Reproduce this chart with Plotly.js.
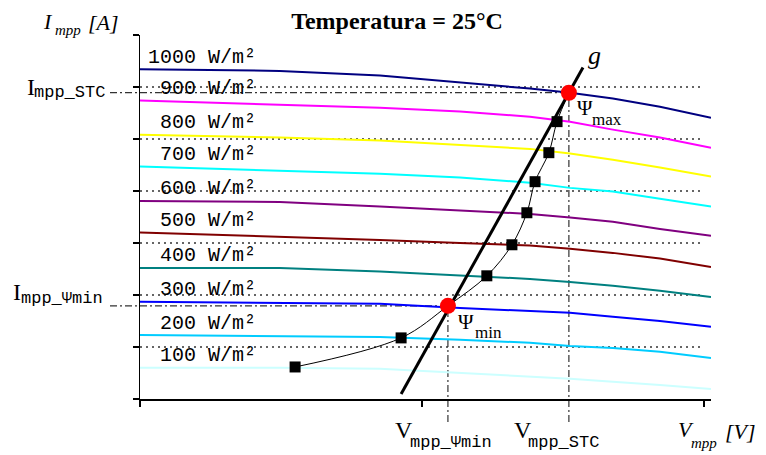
<!DOCTYPE html>
<html><head><meta charset="utf-8">
<script src="https://cdn.plot.ly/plotly-3.0.1.min.js"></script>
<style>html,body{margin:0;padding:0;background:#fff}</style>
</head><body><div id="chart" style="width:766px;height:455px"></div>
<script>
// ---- data ----
const irradianceLabels = ['1000 W/m²','900 W/m²','800 W/m²','700 W/m²','600 W/m²','500 W/m²','400 W/m²','300 W/m²','200 W/m²','100 W/m²'];
const curveColors = ['#000080','#FF00FF','#FFFF00','#00FFFF','#800080','#800000','#008080','#0000FF','#00CCFF','#CCFFFF'];
const curveX = [0, 0.496, 0.851, 1.135, 1.383, 1.525, 1.677, 1.844, 2.025];
const I1000 = [6.34, 6.31, 6.22, 6.09, 5.97, 5.89, 5.78, 5.62, 5.41];
const I900  = [5.74, 5.66, 5.60, 5.53, 5.43, 5.33, 5.18, 5.03, 4.83];
const I800  = [5.08, 5.03, 4.97, 4.89, 4.81, 4.72, 4.60, 4.45, 4.28];
const I700  = [4.47, 4.39, 4.33, 4.26, 4.16, 4.06, 3.99, 3.85, 3.70];
const I600  = [3.81, 3.79, 3.70, 3.62, 3.56, 3.49, 3.41, 3.27, 3.14];
const I500  = [3.20, 3.12, 3.06, 3.00, 2.95, 2.89, 2.81, 2.70, 2.54];
const I400  = [2.52, 2.52, 2.45, 2.37, 2.31, 2.25, 2.18, 2.08, 1.96];
const I300  = [1.87, 1.85, 1.83, 1.75, 1.70, 1.66, 1.58, 1.50, 1.39];
const I200  = [1.23, 1.21, 1.19, 1.14, 1.08, 1.02, 0.98, 0.91, 0.79];
const I100  = [0.60, 0.60, 0.58, 0.50, 0.44, 0.39, 0.33, 0.27, 0.19];
const curves = [I1000, I900, I800, I700, I600, I500, I400, I300, I200, I100];

// maximum power points, 100 -> 1000 W/m²
const mppV = [0.550, 0.926, 1.092, 1.230, 1.319, 1.372, 1.401, 1.450, 1.479, 1.521];
const mppI = [0.616, 1.175, 1.791, 2.369, 2.966, 3.582, 4.179, 4.737, 5.334, 5.890];
const psiMinIdx = 2, psiMaxIdx = 9;

// line g
const gV = [0.926, 1.571];
const gI = [0.096, 6.374];

const xTicks = [0, 1, 2];
const yTicks = [0, 1, 2, 3, 4, 5, 6, 7];
const gridVals = [1, 2, 3, 4, 5, 6];
const xMax = 2.025, yMax = 7;

// ---- layout geometry ----
const W = 766, H = 455, L = 140, R = 55, T = 35, B = 56;
const plotW = W - L - R, plotH = H - T - B;
const px = p => (p - L) / plotW;            // pixel x -> paper
const py = p => (H - B - p) / plotH;        // pixel y -> paper

const traces = [];
// dotted grid lines
gridVals.forEach(v => traces.push({
  x: [xTicks[0], xTicks[xTicks.length - 1]], y: [v, v], mode: 'lines',
  line: {color: '#333', width: 1.3, dash: '2px,4px'}, hoverinfo: 'skip', showlegend: false
}));
// irradiance curves
curves.forEach((c, i) => traces.push({
  x: curveX, y: c, mode: 'lines', line: {color: curveColors[i], width: 2},
  name: irradianceLabels[i], showlegend: false
}));
// MPP thin connecting curve
traces.push({x: mppV, y: mppI, mode: 'lines', line: {color: '#000', width: 1, shape: 'spline'}, showlegend: false});
// line g
traces.push({x: gV, y: gI, mode: 'lines', line: {color: '#000', width: 3}, showlegend: false});
// squares
const sqV = mppV.filter((_, i) => i !== psiMinIdx && i !== psiMaxIdx);
const sqI = mppI.filter((_, i) => i !== psiMinIdx && i !== psiMaxIdx);
traces.push({x: sqV, y: sqI, mode: 'markers', marker: {symbol: 'square', size: 11, color: '#000'}, showlegend: false, cliponaxis: false});
// red points
traces.push({x: [mppV[psiMinIdx], mppV[psiMaxIdx]], y: [mppI[psiMinIdx], mppI[psiMaxIdx]], mode: 'markers',
  marker: {size: 16, color: '#FF0000'}, showlegend: false, cliponaxis: false});

// dash-dot reference lines (paper coords derived from data)
const dd = {color: '#333', width: 1.2, dash: '7px,3px,2px,3px'};
const shapes = [
  {type: 'line', xref: 'paper', yref: 'paper', x0: px(110), x1: mppV[psiMaxIdx] / xMax, y0: mppI[psiMaxIdx] / yMax, y1: mppI[psiMaxIdx] / yMax, line: dd, layer: 'below'},
  {type: 'line', xref: 'paper', yref: 'paper', x0: px(110), x1: mppV[psiMinIdx] / xMax, y0: mppI[psiMinIdx] / yMax, y1: mppI[psiMinIdx] / yMax, line: dd, layer: 'below'},
  {type: 'line', xref: 'paper', yref: 'paper', x0: mppV[psiMinIdx] / xMax, x1: mppV[psiMinIdx] / xMax, y0: py(422), y1: mppI[psiMinIdx] / yMax, line: dd, layer: 'below'},
  {type: 'line', xref: 'paper', yref: 'paper', x0: mppV[psiMaxIdx] / xMax, x1: mppV[psiMaxIdx] / xMax, y0: py(422), y1: mppI[psiMaxIdx] / yMax, line: dd, layer: 'below'}
];

const serif = 'Liberation Serif, Times New Roman, serif';
const mono = 'Liberation Mono, Courier New, monospace';
const annotations = [];
// irradiance labels
curves.forEach((c, i) => annotations.push({
  xref: 'x', yref: 'y', x: 0.42, y: c[0], yshift: 12, xanchor: 'right', yanchor: 'middle',
  text: irradianceLabels[i], showarrow: false, font: {family: mono, size: 20, color: '#000'}
}));
const txt = (text, xp, yp, family, size) => annotations.push({
  xref: 'paper', yref: 'paper', x: px(xp), y: py(yp), xanchor: 'left', yanchor: 'middle',
  text: text, showarrow: false, font: {family: family, size: size, color: '#000'}
});
// y axis title  I_mpp [A]
txt('<i>I</i>', 41, 22, serif, 22);
txt('<i>mpp</i>', 53, 30, serif, 15);
txt('<i>[A]</i>', 86, 23, serif, 22);
// I_mpp_STC
txt('I', 25, 87, serif, 24);
txt('mpp_STC', 32, 92, mono, 17);
// I_mpp_Ψmin
txt('I', 11, 292, serif, 24);
txt('mpp_Ψmin', 19, 298, mono, 17);
// V_mpp_Ψmin
txt('V', 393, 430, serif, 24);
txt('mpp_Ψmin', 408, 442, mono, 17);
// V_mpp_STC
txt('V', 512, 430, serif, 24);
txt('mpp_STC', 526, 442, mono, 17);
// V_mpp [V]
txt('<i>V</i>', 676, 430, serif, 22);
txt('<i>mpp</i>', 689, 443, serif, 15);
txt('<i>[V]</i>', 723, 432, serif, 22);
// g
txt('<i>g</i>', 586, 55, serif, 26);
// Ψmax, Ψmin
txt('Ψ', 575, 108, serif, 21);
txt('max', 590, 120, serif, 17);
txt('Ψ', 456, 322, serif, 21);
txt('min', 473, 332, serif, 17);

const layout = {
  width: W, height: H,
  margin: {l: L, r: R, t: T, b: B, pad: 0},
  paper_bgcolor: '#fff', plot_bgcolor: 'rgba(0,0,0,0)',
  title: {text: '<b>Temperatura = 25°C</b>', x: 397 / W, xanchor: 'center', y: 1 - 21 / H, yanchor: 'middle',
          font: {family: serif, size: 24, color: '#000'}},
  xaxis: {range: [0, xMax], showgrid: false, zeroline: false, showline: true, linecolor: '#000', linewidth: 1.5,
          ticks: 'outside', tickvals: xTicks, ticklen: 6, tickcolor: '#000', tickwidth: 1.5, showticklabels: false, fixedrange: true},
  yaxis: {range: [0, yMax], showgrid: false, zeroline: false, showline: true, linecolor: '#000', linewidth: 1.5,
          ticks: 'outside', tickvals: yTicks, ticklen: 6, tickcolor: '#000', tickwidth: 1.5, showticklabels: false, fixedrange: true},
  shapes: shapes,
  annotations: annotations,
  showlegend: false
};

Plotly.newPlot('chart', traces, layout, {displayModeBar: false, staticPlot: true});
</script>
</body></html>
